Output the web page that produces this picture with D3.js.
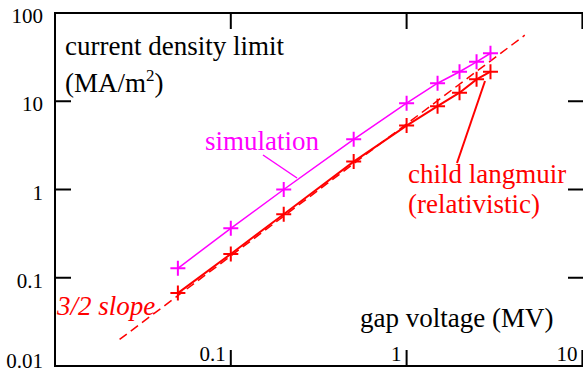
<!DOCTYPE html>
<html>
<head>
<meta charset="utf-8">
<script src="https://cdn.jsdelivr.net/npm/d3@7"></script>
<style>
body { margin: 0; background: #fff; }
svg { display: block; }
</style>
</head>
<body>
<div id="graph"></div>
<script>
// gap voltage (MV) and current density limit (MA/m^2)
var voltage = [0.05, 0.1, 0.2, 0.5, 1, 1.5, 2, 2.5, 3];
var simulation = [0.128, 0.363, 1.0, 3.7, 9.5, 16, 21.6, 28, 35];
var childLangmuir = [0.067, 0.186, 0.524, 2.07, 5.3, 8.8, 12.5, 17.7, 21.6];
// 3/2 slope reference line end points
var slopeV = [0.0233, 4.7];
var slopeJ = [0.020, 56];
var xTicks = [0.1, 1, 10];
var yTicks = [100, 10, 1, 0.1, 0.01];

var width = 583, height = 372;
var plotLeft = 55, plotRight = 584, plotTop = 13, plotBottom = 366;
var serif = "'Liberation Serif', 'Times New Roman', Times, serif";
var fs = 27;

var x = d3.scaleLog().domain([0.01, 10]).range([plotLeft, 582.4]);
var y = d3.scaleLog().domain([0.01, 100]).range([plotBottom, plotTop]);

var svg = d3.select("#graph").append("svg")
    .attr("width", width)
    .attr("height", height)
    .attr("font-family", serif);

// frame
svg.append("path")
    .attr("d", "M" + plotRight + "," + plotTop + "H" + plotLeft + "V" + plotBottom + "H" + plotRight)
    .attr("fill", "none")
    .attr("stroke", "#000")
    .attr("stroke-width", 2);

var tl = 16;
// left + right ticks
yTicks.forEach(function(t) {
    svg.append("line").attr("x1", plotLeft).attr("x2", plotLeft + tl)
        .attr("y1", y(t)).attr("y2", y(t))
        .attr("stroke", "#000").attr("stroke-width", 2);
    svg.append("line").attr("x1", plotRight - tl).attr("x2", plotRight)
        .attr("y1", y(t)).attr("y2", y(t))
        .attr("stroke", "#000").attr("stroke-width", 2);
    svg.append("text")
        .attr("x", 43)
        .attr("y", t == 0.01 ? 368 : y(t) + 10)
        .attr("text-anchor", "end")
        .attr("font-size", 21)
        .text(d3.format("~g")(t));
});
// bottom + top ticks
xTicks.forEach(function(t) {
    svg.append("line").attr("x1", x(t)).attr("x2", x(t))
        .attr("y1", plotBottom).attr("y2", plotBottom - tl)
        .attr("stroke", "#000").attr("stroke-width", 2);
    svg.append("line").attr("x1", x(t)).attr("x2", x(t))
        .attr("y1", plotTop).attr("y2", plotTop + tl)
        .attr("stroke", "#000").attr("stroke-width", 2);
    svg.append("text")
        .attr("x", x(t) - 5)
        .attr("y", 361)
        .attr("text-anchor", "end")
        .attr("font-size", 21)
        .text(d3.format("~g")(t));
});

var line = d3.line()
    .x(function(d) { return x(d[0]); })
    .y(function(d) { return y(d[1]); });

// 3/2 slope dashed line
svg.append("path")
    .datum(d3.zip(slopeV, slopeJ))
    .attr("d", line)
    .attr("fill", "none")
    .attr("stroke", "#ff0000")
    .attr("stroke-width", 1.5)
    .attr("stroke-dasharray", "9,5");

function series(vals, color, w) {
    var pts = d3.zip(voltage, vals);
    svg.append("path")
        .datum(pts)
        .attr("d", line)
        .attr("fill", "none")
        .attr("stroke", color)
        .attr("stroke-width", w);
    svg.selectAll(null)
        .data(pts)
        .enter()
        .append("path")
        .attr("d", function(d) {
            var cx = x(d[0]), cy = y(d[1]), s = 7.5;
            return "M" + (cx - s) + "," + cy + "H" + (cx + s) +
                "M" + cx + "," + (cy - s) + "V" + (cy + s);
        })
        .attr("stroke", color)
        .attr("stroke-width", 2);
}
series(simulation, "#ff00ff", 1.5);
series(childLangmuir, "#ff0000", 2);

// axis titles
svg.append("text").attr("x", 65).attr("y", 55).attr("font-size", fs)
    .text("current density limit");
var unit = svg.append("text").attr("x", 65).attr("y", 92).attr("font-size", fs);
unit.append("tspan").text("(MA/m");
unit.append("tspan").attr("font-size", 17).attr("dy", -11).text("2");
unit.append("tspan").attr("dy", 11).text(")");
svg.append("text").attr("x", 360).attr("y", 327).attr("font-size", fs)
    .text("gap voltage (MV)");

// annotations
svg.append("text").attr("x", 205).attr("y", 150).attr("font-size", fs)
    .attr("fill", "#ff00ff").text("simulation");
svg.append("line").attr("x1", 263).attr("y1", 155).attr("x2", 297).attr("y2", 178)
    .attr("stroke", "#ff00ff").attr("stroke-width", 1.5);
svg.append("text").attr("x", 408).attr("y", 183).attr("font-size", fs)
    .attr("fill", "#ff0000").text("child langmuir");
svg.append("text").attr("x", 408).attr("y", 213).attr("font-size", fs)
    .attr("fill", "#ff0000").text("(relativistic)");
svg.append("line").attr("x1", 457).attr("y1", 163).attr("x2", 485).attr("y2", 81)
    .attr("stroke", "#ff0000").attr("stroke-width", 2);
svg.append("text").attr("x", 57).attr("y", 315).attr("font-size", fs)
    .attr("font-style", "italic")
    .attr("fill", "#ff0000").text("3/2 slope");
</script>
</body>
</html>
